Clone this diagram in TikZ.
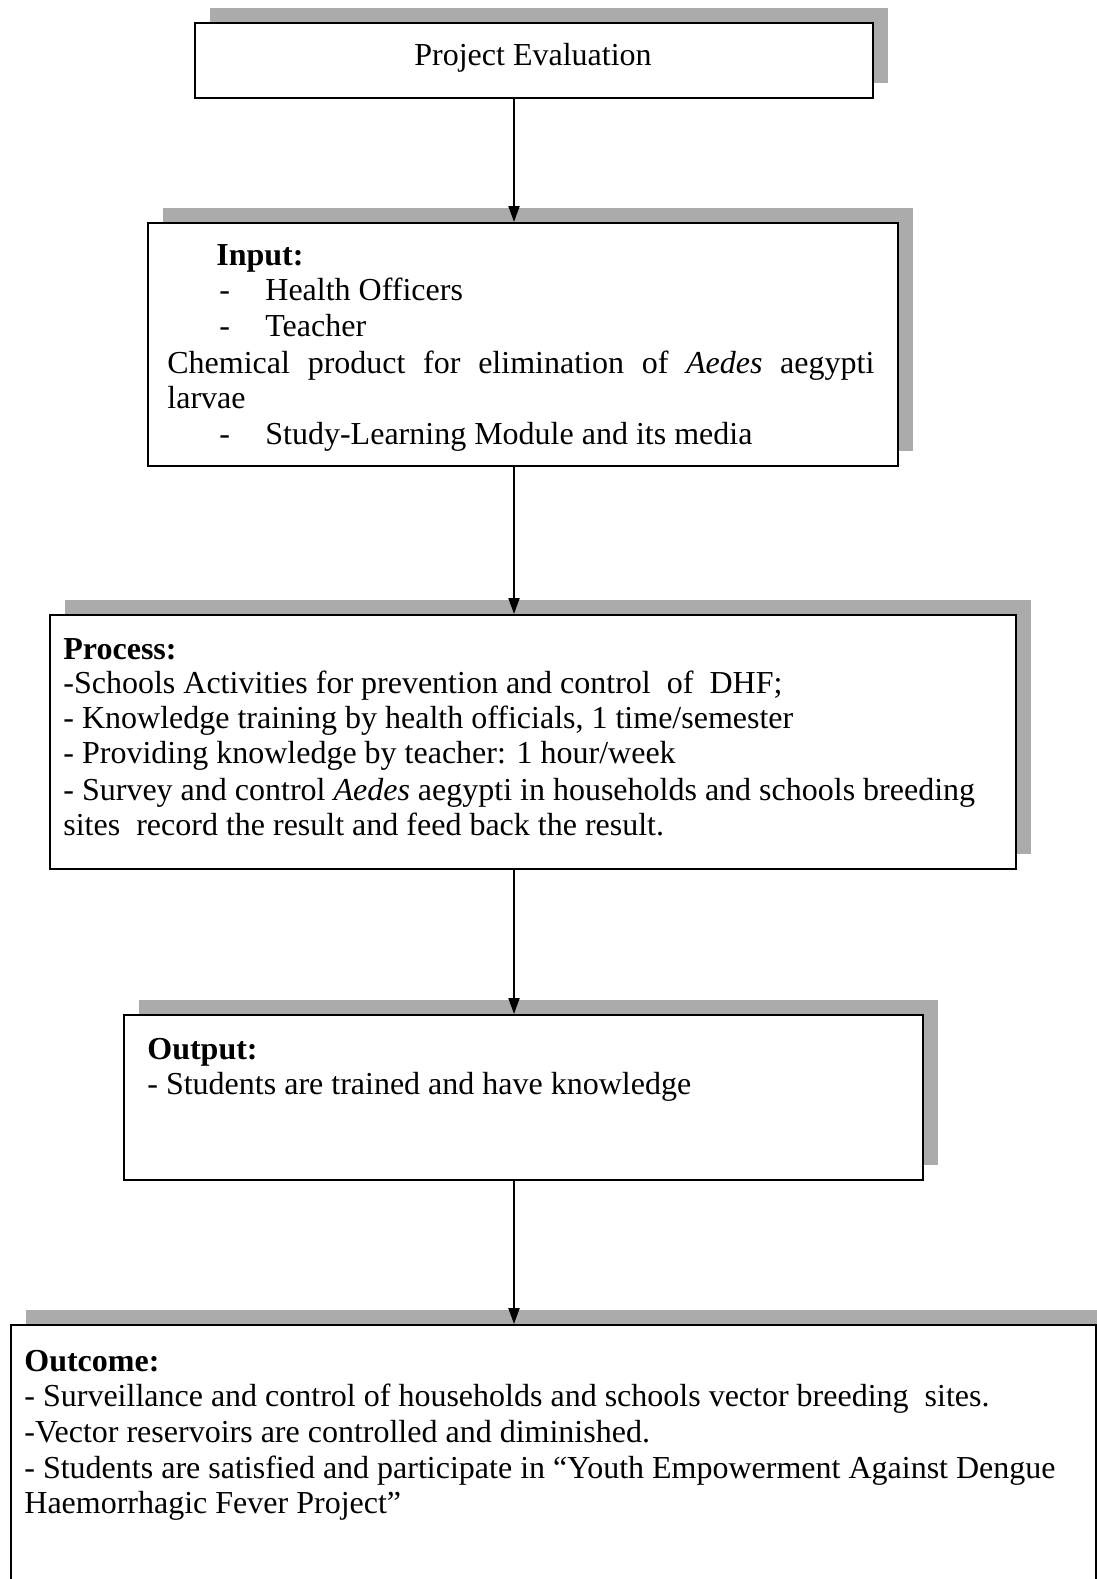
\documentclass[tikz,border=0pt]{standalone}
\usepackage{fontspec}
\setmainfont{Liberation Serif}
\usetikzlibrary{arrows.meta,shadows}
\newlength\px
\setlength\px{0.5pt}
\begin{document}
\begin{tikzpicture}[x=0.5pt,y=-0.5pt,
  boxsh/.style={draw=black, line width=1pt, fill=white, inner sep=0pt, anchor=north west,
     drop shadow={shadow xshift=7.5pt, shadow yshift=7.5pt, fill=black!33, opacity=1}},
  txt/.style={anchor=base west, inner sep=0pt, font=\fontsize{16pt}{18pt}\selectfont},
  arr/.style={line width=1pt, -{Triangle[length=8pt,width=5.5pt]}}
]
\useasboundingbox (0,0) rectangle (1097,1579);
\clip (0,0) rectangle (1097,1579);
\fill[white] (0,0) rectangle (1097,1579);

% boxes
\node[boxsh, minimum width=339pt, minimum height=37.5pt] (b1) at (194,22) {};
\node[boxsh, minimum width=375pt, minimum height=121.5pt] (b2) at (147,222) {};
\node[boxsh, minimum width=483pt, minimum height=127pt] (b3) at (49,614) {};
\node[boxsh, minimum width=399.5pt, minimum height=82.5pt] (b4) at (123,1014) {};
\node[boxsh, minimum width=542.5pt, minimum height=160pt] (b5) at (10,1324) {};

% arrows
\coordinate (ax) at (514,0);
\draw[arr] (b1.south -| ax) -- (b2.north -| ax);
\draw[arr] (b2.south -| ax) -- (b3.north -| ax);
\draw[arr] (b3.south -| ax) -- (b4.north -| ax);
\draw[arr] (b4.south -| ax) -- (b5.north -| ax);

% box 1
\node[txt, anchor=base] (t1) at (533,65) {Project Evaluation};

% box 2
\node[txt] (t2a) at (216,265) {\textbf{Input:}};
\node[txt] (d2b) at (219,300) {-};
\node[txt] (t2b) at (265,300) {Health Officers};
\node[txt] (d2c) at (219,336) {-};
\node[txt] (t2c) at (265,336) {Teacher};
\node[txt] (t2d) at (167,373) {\makebox[353.5pt][s]{Chemical product for elimination of \textit{Aedes} aegypti}};
\node[txt] (t2e) at (167,408) {larvae};
\node[txt] (d2f) at (219,444) {-};
\node[txt] (t2f) at (265,444) {Study-Learning Module and its media};

% box 3
\node[txt] (t3a) at (63,659) {\textbf{Process:}};
\node[txt] (t3b) at (63,693) {-Schools Activities for prevention and control\ \ of\ \ DHF;};
\node[txt] (t3c) at (63,728) {- Knowledge training by health officials, 1 time/semester};
\node[txt] (t3d) at (63,763) {- Providing knowledge by teacher: 1 hour/week};
\node[txt] (t3e) at (63,800) {- Survey and control \textit{Aedes} aegypti in households and schools breeding};
\node[txt] (t3f) at (63,835) {sites\ \ record the result and feed back the result.};

% box 4
\node[txt] (t4a) at (147,1059) {\textbf{Output:}};
\node[txt] (t4b) at (147,1094) {- Students are trained and have knowledge};

% box 5
\node[txt] (t5a) at (24,1371) {\textbf{Outcome:}};
\node[txt] (t5b) at (24,1406) {- Surveillance and control of households and schools vector breeding\ \ sites.};
\node[txt] (t5c) at (24,1442) {-Vector reservoirs are controlled and diminished.};
\node[txt] (t5d) at (24,1478) {- Students are satisfied and participate in “Youth Empowerment Against Dengue};
\node[txt] (t5e) at (24,1513) {Haemorrhagic Fever Project”};
\end{tikzpicture}
\end{document}
